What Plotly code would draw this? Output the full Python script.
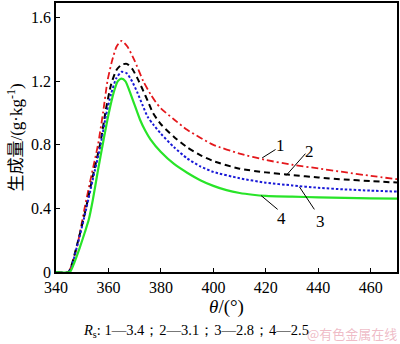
import plotly.graph_objects as go

# Formation amount vs. angle for four R_s values
theta_1 = [340, 344.7, 348, 351, 353.6, 356, 358, 359.6, 361.3, 363.1, 365, 367.2, 370.1, 373.3,
           376, 378, 380, 385, 390, 395, 400, 410, 420, 430, 440, 450, 460, 470]
amount_1 = [0, 0, 0.16, 0.41, 0.615, 0.8, 1.01, 1.2, 1.325, 1.419, 1.455, 1.419, 1.325, 1.2,
            1.12, 1.07, 1.03, 0.96, 0.895, 0.845, 0.80, 0.745, 0.705, 0.675, 0.652, 0.628, 0.605, 0.584]

theta_2 = [340, 344.7, 348, 351, 354, 357, 359, 361, 363, 365, 367, 369, 371, 373, 375, 377,
           380, 385, 390, 395, 400, 410, 420, 430, 440, 450, 460, 470]
amount_2 = [0, 0, 0.17, 0.37, 0.6, 0.82, 1.02, 1.18, 1.27, 1.305, 1.31, 1.28, 1.22, 1.15, 1.075, 1.0,
            0.93, 0.85, 0.785, 0.735, 0.698, 0.65, 0.627, 0.61, 0.595, 0.582, 0.572, 0.563]

theta_3 = [340, 344.9, 348, 351, 354, 357, 359, 361, 363, 365, 367, 369, 371, 373, 375, 377,
           380, 385, 390, 395, 400, 410, 420, 430, 440, 450, 460, 470]
amount_3 = [0, 0, 0.16, 0.36, 0.58, 0.8, 0.98, 1.12, 1.22, 1.26, 1.25, 1.2, 1.13, 1.05, 0.975, 0.93,
            0.87, 0.785, 0.715, 0.665, 0.63, 0.59, 0.562, 0.545, 0.53, 0.52, 0.512, 0.506]

theta_4 = [340, 345.3, 347, 349, 351, 352.5, 354, 356, 358, 360, 362, 363.5, 365, 366.5, 368, 370,
           372, 374, 376, 380, 385, 390, 395, 400, 405, 410, 415, 420, 430, 440, 450, 460, 470]
amount_4 = [0, 0, 0.06, 0.15, 0.25, 0.33, 0.45, 0.64, 0.82, 0.99, 1.13, 1.2, 1.217, 1.2, 1.14, 1.05,
            0.96, 0.89, 0.835, 0.755, 0.68, 0.625, 0.578, 0.542, 0.515, 0.497, 0.486, 0.479,
            0.474, 0.47, 0.466, 0.463, 0.462]

x_ticks = [340, 360, 380, 400, 420, 440, 460]
y_ticks = [0, 0.4, 0.8, 1.2, 1.6]
y_tick_text = ["0", "0.4", "0.8", "1.2", "1.6"]

curve_labels = ["1", "2", "3", "4"]
caption = "<i>R</i><sub>s</sub>: 1—3.4；2—3.1；3—2.8；4—2.5"
y_title = ("生成量<span style='font-family:Liberation Serif'>"
           "/(g·kg<sup>-1</sup>)</span>")

SERIF = "Liberation Serif"

series = [
    (theta_1, amount_1, "rgb(228,24,28)", "7px,3px,2px,3px", 1.8),
    (theta_2, amount_2, "black", "6px,4px", 2),
    (theta_3, amount_3, "rgb(25,25,215)", "2.5px,2px", 2),
    (theta_4, amount_4, "rgb(40,228,40)", "solid", 2.2),
]

fig = go.Figure()
for xs, ys, color, dash, width in series:
    fig.add_trace(go.Scatter(
        x=xs, y=ys, mode="lines",
        line=dict(color=color, dash=dash, width=width, shape="spline", smoothing=0.6),
        showlegend=False, hoverinfo="skip",
    ))

# leader lines (start on curve, end near the label) and label positions
leaders = [
    ((418.6, 0.718), (423.7, 0.771), (425.4, 0.794)),
    ((427.7, 0.607), (435.1, 0.745), (436.7, 0.759)),
    ((432.8, 0.536), (438.5, 0.394), (440.8, 0.315)),
    ((418.2, 0.481), (424.5, 0.394), (425.8, 0.335)),
]
for label, (p0, p1, pt) in zip(curve_labels, leaders):
    fig.add_shape(type="line", xref="x", yref="y", x0=p0[0], y0=p0[1], x1=p1[0], y1=p1[1],
                  line=dict(color="black", width=1))
    fig.add_annotation(x=pt[0], y=pt[1], xref="x", yref="y", text=label, showarrow=False,
                       font=dict(family=SERIF, size=17, color="black"))

axis_common = dict(showline=True, linecolor="black", linewidth=1.5, mirror=True,
                   ticks="inside", ticklen=4, tickcolor="black", tickwidth=1,
                   showgrid=False, zeroline=False,
                   tickfont=dict(family=SERIF, size=16, color="black"))

fig.update_xaxes(range=[340, 470], tickvals=x_ticks,
                 title=dict(text="<i>θ</i>/(°)", font=dict(family=SERIF, size=19, color="black"),
                            standoff=5),
                 **axis_common)
fig.update_yaxes(range=[0, 1.693], tickvals=y_ticks, ticktext=y_tick_text,
                 title=dict(text=y_title,
                            font=dict(family="Noto Sans CJK SC", size=17, color="black"),
                            standoff=4),
                 **axis_common)

fig.update_layout(
    width=400, height=344,
    margin=dict(l=56, r=2, t=1, b=72),
    paper_bgcolor="white", plot_bgcolor="white",
)

# caption and site mark, placed in paper units below the plot area
fig.add_annotation(x=(196 - 56) / 342, y=-(330 - 271) / 271, xref="paper", yref="paper",
                   text=caption, showarrow=False, xanchor="center", yanchor="middle",
                   font=dict(family=SERIF, size=14.5, color="black"))
fig.add_annotation(x=(353 - 56) / 342, y=-(333 - 271) / 271, xref="paper", yref="paper",
                   text="@有色金属在线", showarrow=False, xanchor="center", yanchor="middle",
                   font=dict(family="Noto Sans CJK SC", size=13, color="rgba(225,130,150,0.55)"))

fig.write_html("out.html")
